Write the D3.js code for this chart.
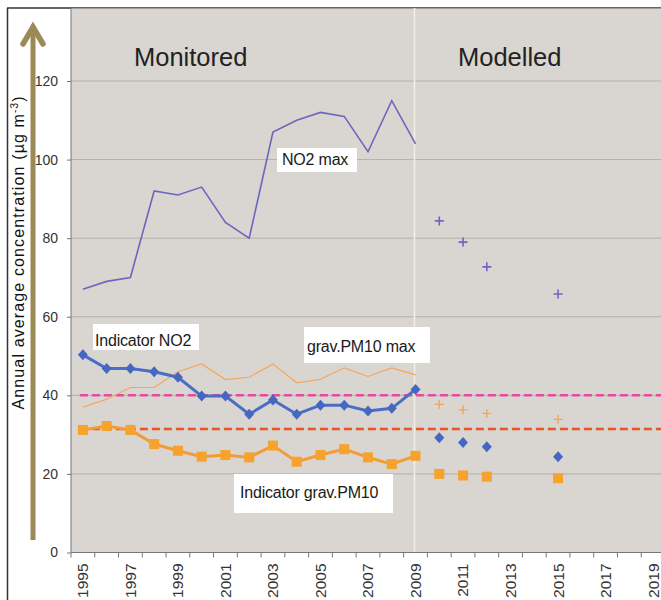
<!DOCTYPE html>
<html><head><meta charset="utf-8">
<script src="https://cdn.jsdelivr.net/npm/d3@7"></script>
<style>
html,body{margin:0;padding:0;background:#fff;}
svg{display:block;font-family:"Liberation Sans",Arial,sans-serif;}
</style></head>
<body><svg id="c" width="661" height="600"></svg>
<script>
// ---- data ----
const years = d3.range(1995, 2020);
const yTicks = [0, 20, 40, 60, 80, 100, 120];
const xLabelYears = [1995,1997,1999,2001,2003,2005,2007,2009,2011,2013,2015,2017,2019];
const monitoredYears = d3.range(1995, 2010);
const no2Max = [67,69,70,92,91,93,84,80,107,110,112,111,102,115,104];
const pm10Max = [37,39,42,42,46,48,44,44.6,48,43.2,44.1,47,44.8,47,45.2];
const indicatorNO2 = [50.3,46.8,46.8,46,44.6,39.8,39.8,35.2,38.8,35.2,37.5,37.5,36,36.7,41.5];
const indicatorPM10 = [31.2,32.2,31.2,27.6,25.9,24.4,24.8,24.2,27.2,23.1,24.8,26.3,24.2,22.5,24.6];
const modelYears = [2010, 2011, 2012, 2015];
const no2MaxModel = [84.4, 79, 72.7, 65.8];
const pm10MaxModel = [37.7, 36.3, 35.4, 33.9];
const indicatorNO2Model = [29.2, 28, 26.9, 24.4];
const indicatorPM10Model = [20, 19.6, 19.3, 18.9];
const limitNO2 = 40;
const limitPM10 = 31.4;

// ---- layout ----
const svg = d3.select("#c");
const pLeft = 71, pRight = 665, pBottom = 552.5, pTop = 8;
const x = d3.scaleBand().domain(years).range([pLeft, pRight]).padding(0);
const cx = d => x(d) + x.bandwidth() / 2;
const y = d3.scaleLinear().domain([0, 120]).range([pBottom, 81]);

// outer frame
svg.append("line").attr("x1", 7.5).attr("x2", 7.5).attr("y1", 8).attr("y2", 600).attr("stroke", "#333").attr("stroke-width", 1.5);
svg.append("line").attr("x1", 7).attr("x2", 661).attr("y1", 8).attr("y2", 8).attr("stroke", "#333").attr("stroke-width", 1.5);

// plot background
svg.append("rect").attr("x", pLeft).attr("y", pTop + 0.5).attr("width", pRight - pLeft).attr("height", pBottom - pTop)
  .attr("fill", "#d9d5d1");

// grid lines
svg.append("g").selectAll("line").data(yTicks.filter(d => d > 0)).join("line")
  .attr("x1", pLeft).attr("x2", pRight).attr("y1", d => y(d)).attr("y2", d => y(d))
  .attr("stroke", "#b3afab").attr("stroke-width", 1);

// divider between monitored and modelled
svg.append("line").attr("x1", cx(2009) - 1).attr("x2", cx(2009) - 1).attr("y1", pTop).attr("y2", pBottom)
  .attr("stroke", "#f3eee2").attr("stroke-width", 1.6);

// y axis
const yAxis = d3.axisLeft(y).tickValues(yTicks).tickSize(4).tickPadding(9);
const gy = svg.append("g").attr("transform", `translate(${pLeft},0)`).call(yAxis);
gy.select(".domain").attr("stroke", "#777").attr("d", `M0,${pTop}V${pBottom}`);
gy.selectAll(".tick line").attr("stroke", "#777");
gy.selectAll(".tick text").attr("fill", "#333").style("font-size", "14px").style("font-family", "Liberation Sans, Arial, sans-serif");

// x axis
svg.append("line").attr("x1", pLeft).attr("x2", pRight).attr("y1", pBottom).attr("y2", pBottom).attr("stroke", "#777");
svg.append("g").selectAll("line").data(years.concat([2020])).join("line")
  .attr("x1", d => d === 2020 ? pRight : x(d)).attr("x2", d => d === 2020 ? pRight : x(d))
  .attr("y1", pBottom).attr("y2", pBottom + 5).attr("stroke", "#777");
svg.append("g").selectAll("text").data(xLabelYears).join("text")
  .attr("transform", d => `translate(${cx(d)},${pBottom + 11}) rotate(-90)`)
  .attr("text-anchor", "end").attr("dy", "0.35em")
  .attr("fill", "#333").style("font-size", "15.5px").text(d => d);

// dashed limit lines
svg.append("line").attr("x1", cx(1995) - 3).attr("x2", pRight).attr("y1", y(limitNO2)).attr("y2", y(limitNO2))
  .attr("stroke", "#e64a9e").attr("stroke-width", 2.5).attr("stroke-dasharray", "8,4");
svg.append("line").attr("x1", cx(1995) - 3).attr("x2", pRight).attr("y1", y(limitPM10)).attr("y2", y(limitPM10))
  .attr("stroke", "#e8532a").attr("stroke-width", 2.5).attr("stroke-dasharray", "8,4");

const line = d3.line().x(d => cx(d[0])).y(d => y(d[1]));
const zip = (xs, vs) => xs.map((d, i) => [d, vs[i]]);

// NO2 max line
svg.append("path").datum(zip(monitoredYears, no2Max)).attr("d", line)
  .attr("fill", "none").attr("stroke", "#6b67bf").attr("stroke-width", 1.6);
// PM10 max line
svg.append("path").datum(zip(monitoredYears, pm10Max)).attr("d", line)
  .attr("fill", "none").attr("stroke", "#f3a65c").attr("stroke-width", 1.2);
// Indicator NO2
svg.append("path").datum(zip(monitoredYears, indicatorNO2)).attr("d", line)
  .attr("fill", "none").attr("stroke", "#4a6ec4").attr("stroke-width", 3);
// Indicator PM10
svg.append("path").datum(zip(monitoredYears, indicatorPM10)).attr("d", line)
  .attr("fill", "none").attr("stroke", "#f39c34").attr("stroke-width", 3);

const diamond = "M0,-5.5L5,0L0,5.5L-5,0Z";
const square = "M-5,-5H5V5H-5Z";
const plus = "M-4.5,0H4.5M0,-4.5V4.5";

function markers(data, path, fill, stroke, sw) {
  svg.append("g").selectAll("path").data(data).join("path")
    .attr("transform", d => `translate(${cx(d[0])},${y(d[1])})`)
    .attr("d", path).attr("fill", fill).attr("stroke", stroke).attr("stroke-width", sw || 0);
}
markers(zip(monitoredYears, indicatorNO2), diamond, "#4567c2", "none");
markers(zip(modelYears, indicatorNO2Model), diamond, "#4567c2", "none");
markers(zip(monitoredYears, indicatorPM10), square, "#f7a22c", "none");
markers(zip(modelYears, indicatorPM10Model), square, "#f7a22c", "none");
markers(zip(modelYears, no2MaxModel), plus, "none", "#6b67bf", 1.6);
markers(zip(modelYears, pm10MaxModel), plus, "none", "#f5a54e", 1.3);

// labels with white boxes
function boxLabel(bx, by, bw, bh, tx, ty, txt) {
  svg.append("rect").attr("x", bx).attr("y", by).attr("width", bw).attr("height", bh).attr("fill", "#fff");
  svg.append("text").attr("x", tx).attr("y", ty).attr("fill", "#1a1a1a").style("font-size", "16px")
    .style("letter-spacing", "-0.2px").text(txt);
}
boxLabel(277, 148, 80, 24, 282, 165, "NO2 max");
boxLabel(93, 324, 106, 26, 95, 345.5, "Indicator NO2");
boxLabel(304, 327, 126, 36, 307, 352, "grav.PM10 max");
boxLabel(234, 474, 159, 39, 240, 498, "Indicator grav.PM10");

// section titles
svg.append("text").attr("x", 134).attr("y", 66).attr("fill", "#222").style("font-size", "25.5px").text("Monitored");
svg.append("text").attr("x", 458).attr("y", 66).attr("fill", "#222").style("font-size", "25.5px").text("Modelled");

// arrow on the left
svg.append("line").attr("x1", 33).attr("x2", 33).attr("y1", 540).attr("y2", 30)
  .attr("stroke", "#9c8a56").attr("stroke-width", 5);
svg.append("path").attr("d", "M23,44L33,27L43,44").attr("fill", "none")
  .attr("stroke", "#9c8a56").attr("stroke-width", 5.5).attr("stroke-linecap", "round").attr("stroke-linejoin", "miter");

// y axis title
const yt = svg.append("text").attr("transform", "translate(24,253) rotate(-90)")
  .attr("text-anchor", "middle").attr("fill", "#111").style("font-size", "16px")
  .attr("textLength", 313).attr("lengthAdjust", "spacing");
yt.append("tspan").text("Annual average concentration (µg m");
yt.append("tspan").attr("dy", -6).style("font-size", "10px").text("-3");
yt.append("tspan").attr("dy", 6).text(")");
</script></body></html>
